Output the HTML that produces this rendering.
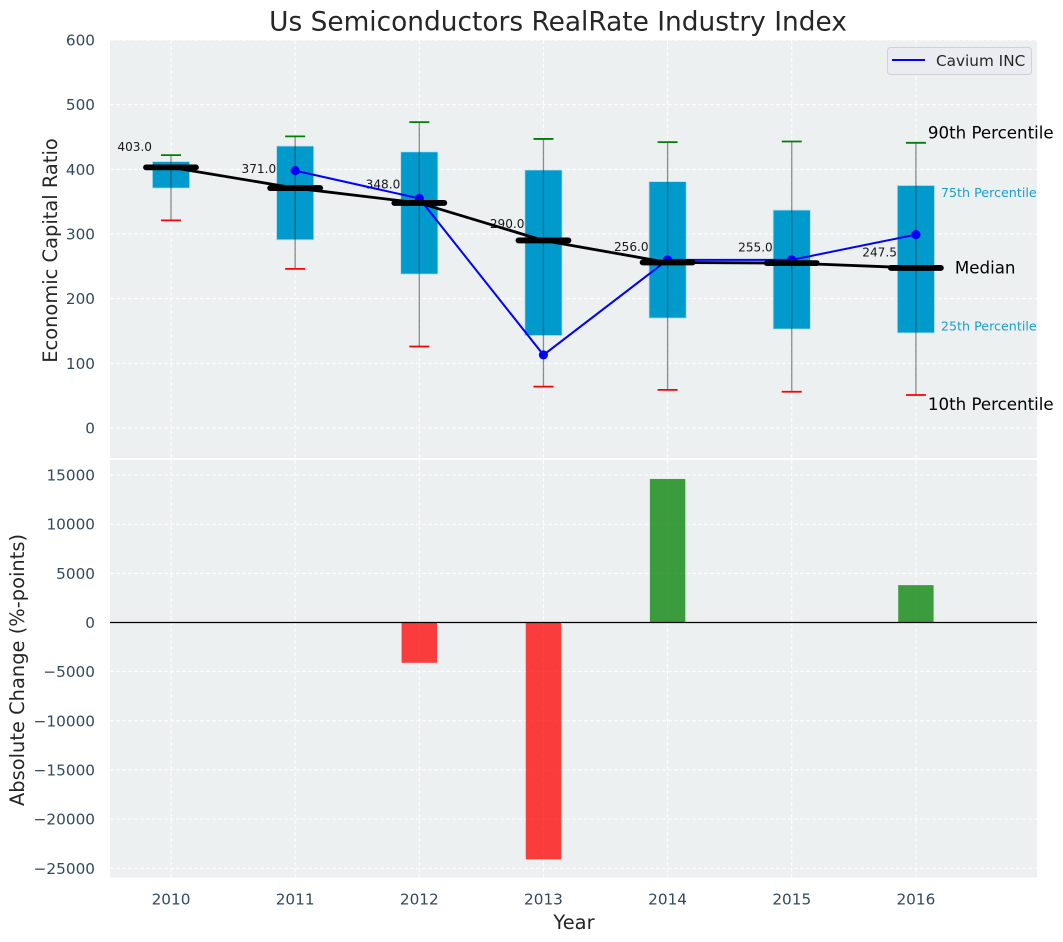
<!DOCTYPE html>
<html>
<head>
<meta charset="utf-8">
<title>Us Semiconductors RealRate Industry Index</title>
<style>
html,body{margin:0;padding:0;background:#fff;width:1063px;height:942px;overflow:hidden}
svg{display:block;font-family:"DejaVu Sans","Liberation Sans",sans-serif}
</style>
</head>
<body>
<svg id="chart" xmlns="http://www.w3.org/2000/svg" width="1063" height="942" viewBox="0 0 1063 942">
  <rect x="0" y="0" width="1063" height="942" fill="#ffffff"/>
  <text x="558" y="30.5" font-size="26.4" fill="#262626" text-anchor="middle">Us Semiconductors RealRate Industry Index</text>
  <rect x="110" y="40" width="927" height="418" fill="#ecf0f1"/>
  <rect x="110" y="460" width="927" height="417.5" fill="#ecf0f1"/>
  <text transform="translate(57,250.5) rotate(-90)" font-size="19.44" fill="#262626" text-anchor="middle">Economic Capital Ratio</text>
  <text transform="translate(24,670) rotate(-90)" font-size="19.44" fill="#262626" text-anchor="middle">Absolute Change (%-points)</text>
  <text x="574" y="929" font-size="19.44" fill="#262626" text-anchor="middle">Year</text>
  <g id="layer"></g>
  <g>
    <rect x="887.5" y="47.5" width="144" height="27" rx="3" fill="#eaecf1" stroke="#d0d2d6" stroke-width="1"/>
    <line x1="892" y1="60" x2="925" y2="60" stroke="#0000ff" stroke-width="2"/>
    <text x="936" y="66" font-size="15.28" fill="#262626">Cavium INC</text>
  </g>
</svg>
<script>
var years = [2010, 2011, 2012, 2013, 2014, 2015, 2016];
var p10 = [321, 246, 126, 64, 59, 56, 51];
var p25 = [371, 291, 238, 143, 170, 153, 147];
var medians = [403, 371, 348, 290, 256, 255, 247.5];
var p75 = [412, 436, 427, 399, 381, 337, 375];
var p90 = [422, 451, 473, 447, 442, 443, 441];
var companyValues = [null, 398, 355, 113, 260, 260, 299];
var absChange = [0, 0, -4100, -24100, 14600, 0, 3800];
var topTicks = [0, 100, 200, 300, 400, 500, 600];
var bottomTicks = [-25000, -20000, -15000, -10000, -5000, 0, 5000, 10000, 15000];

function xs(v) { return 171 + (v - 2010) * 124.15; }
function yTop(v) { return 428 - v * 0.6467; }
function yBottom(v) { return 622.5 - v * 0.00983; }

var NS = 'http://www.w3.org/2000/svg';
var layer = document.getElementById('layer');
function mk(tag, attrs, txt) {
  var el = document.createElementNS(NS, tag);
  for (var k in attrs) { el.setAttribute(k, attrs[k]); }
  if (txt !== undefined) { el.textContent = txt; }
  layer.appendChild(el);
  return el;
}
var gridStyle = { stroke: '#ffffff', 'stroke-width': 1, 'stroke-dasharray': '4 2', opacity: 0.95 };
function gridLine(x1, y1, x2, y2) {
  var a = { x1: x1, y1: y1, x2: x2, y2: y2 };
  for (var k in gridStyle) { a[k] = gridStyle[k]; }
  return mk('line', a);
}
var el, i;

/* grids and tick labels */
topTicks.forEach(function (t) {
  var g = gridLine(110, yTop(t), 1037, yTop(t));
  
  
  var l = mk('text', { x: 95, y: yTop(t) + 5.5, 'font-size': 15.28, fill: '#34495e', 'text-anchor': 'end' }, String(t));
  
  
});
bottomTicks.forEach(function (t) {
  var g = gridLine(110, yBottom(t), 1037, yBottom(t));
  
  
  var l = mk('text', { x: 95, y: yBottom(t) + 5.5, 'font-size': 15.28, fill: '#34495e', 'text-anchor': 'end' }, String(t).replace('-', '\u2212'));
  
  
});
years.forEach(function (yr) {
  var g1 = gridLine(xs(yr), 40, xs(yr), 458);
  
  
  var g2 = gridLine(xs(yr), 460, xs(yr), 877.5);
  
  
  var l = mk('text', { x: xs(yr), y: 904.5, 'font-size': 15.28, fill: '#34495e', 'text-anchor': 'middle' }, String(yr));
  
  
});

/* percentile boxes */
years.forEach(function (yr, n) {
  var r = mk('rect', { x: xs(yr) - 18.6, y: yTop(p75[n]), width: 37.2, height: yTop(p25[n]) - yTop(p75[n]), fill: '#009acd', stroke: '#b8e0ee', 'stroke-width': 0.8 });
  
  
});

/* whiskers */
years.forEach(function (yr, n) {
  var w = mk('line', { x1: xs(yr), y1: yTop(p10[n]), x2: xs(yr), y2: yTop(p90[n]), stroke: '#333333', 'stroke-opacity': 0.55, 'stroke-width': 1.3 });
  
  
  var hi = mk('line', { x1: xs(yr) - 10, y1: yTop(p90[n]), x2: xs(yr) + 10, y2: yTop(p90[n]), stroke: '#008000', 'stroke-width': 1.8 });
  
  
  var lo = mk('line', { x1: xs(yr) - 10, y1: yTop(p10[n]), x2: xs(yr) + 10, y2: yTop(p10[n]), stroke: '#ff0000', 'stroke-width': 1.8 });
  
  
});

/* company series */
var bluePts = [];
years.forEach(function (yr, n) {
  if (companyValues[n] !== null) { bluePts.push(xs(yr) + ',' + yTop(companyValues[n])); }
});
el = mk('polyline', { points: bluePts.join(' '), fill: 'none', stroke: '#0000ff', 'stroke-width': 2 });


years.forEach(function (yr, n) {
  if (companyValues[n] === null) { return; }
  var c = mk('circle', { cx: xs(yr), cy: yTop(companyValues[n]), r: 4.6, fill: '#0000ff' });
  
  
});

/* median trend */
var medPts = years.map(function (yr, n) { return xs(yr) + ',' + yTop(medians[n]); });
el = mk('polyline', { points: medPts.join(' '), fill: 'none', stroke: '#000000', 'stroke-width': 2.8 });


years.forEach(function (yr, n) {
  var m = mk('line', { x1: xs(yr) - 25, y1: yTop(medians[n]), x2: xs(yr) + 25, y2: yTop(medians[n]), stroke: '#000000', 'stroke-width': 5.8, 'stroke-linecap': 'round' });
  
  
  var t = mk('text', { x: xs(yr) - 19, y: yTop(medians[n] * 1.05) - 3.2, 'font-size': 12.1, fill: '#000000', 'fill-opacity': 0.9, 'text-anchor': 'end' }, medians[n].toFixed(1));
  
  
});

/* percentile annotations */
i = years.length - 1;
el = mk('text', { x: xs(years[i]) + 12, y: yTop(p90[i]) - 4.5, 'font-size': 16.67, fill: '#000000' }, '90th Percentile');


el = mk('text', { x: xs(years[i]) + 25, y: yTop(p75[i]) + 11.5, 'font-size': 12.7, fill: '#1a9fcc' }, '75th Percentile');


el = mk('text', { x: xs(years[i]) + 39, y: yTop(medians[i]) + 5.5, 'font-size': 16.67, fill: '#000000' }, 'Median');


el = mk('text', { x: xs(years[i]) + 25, y: yTop(p25[i]) - 2.5, 'font-size': 12.7, fill: '#1a9fcc' }, '25th Percentile');


el = mk('text', { x: xs(years[i]) + 12, y: yTop(p10[i]) + 15, 'font-size': 16.67, fill: '#000000' }, '10th Percentile');



/* bottom bars */
years.forEach(function (yr, n) {
  var v = absChange[n];
  if (v === 0) { return; }
  var top = v > 0 ? yBottom(v) : yBottom(0);
  var h = Math.abs(yBottom(v) - yBottom(0));
  var b = mk('rect', { x: xs(yr) - 17.7, y: top, width: 35.4, height: h, fill: v > 0 ? '#008000' : '#ff0000', 'fill-opacity': 0.75 });
  
  
});
el = mk('line', { x1: 110, y1: yBottom(0), x2: 1037, y2: yBottom(0), stroke: '#000000', 'stroke-width': 1.2 });


</script>
</body>
</html>
